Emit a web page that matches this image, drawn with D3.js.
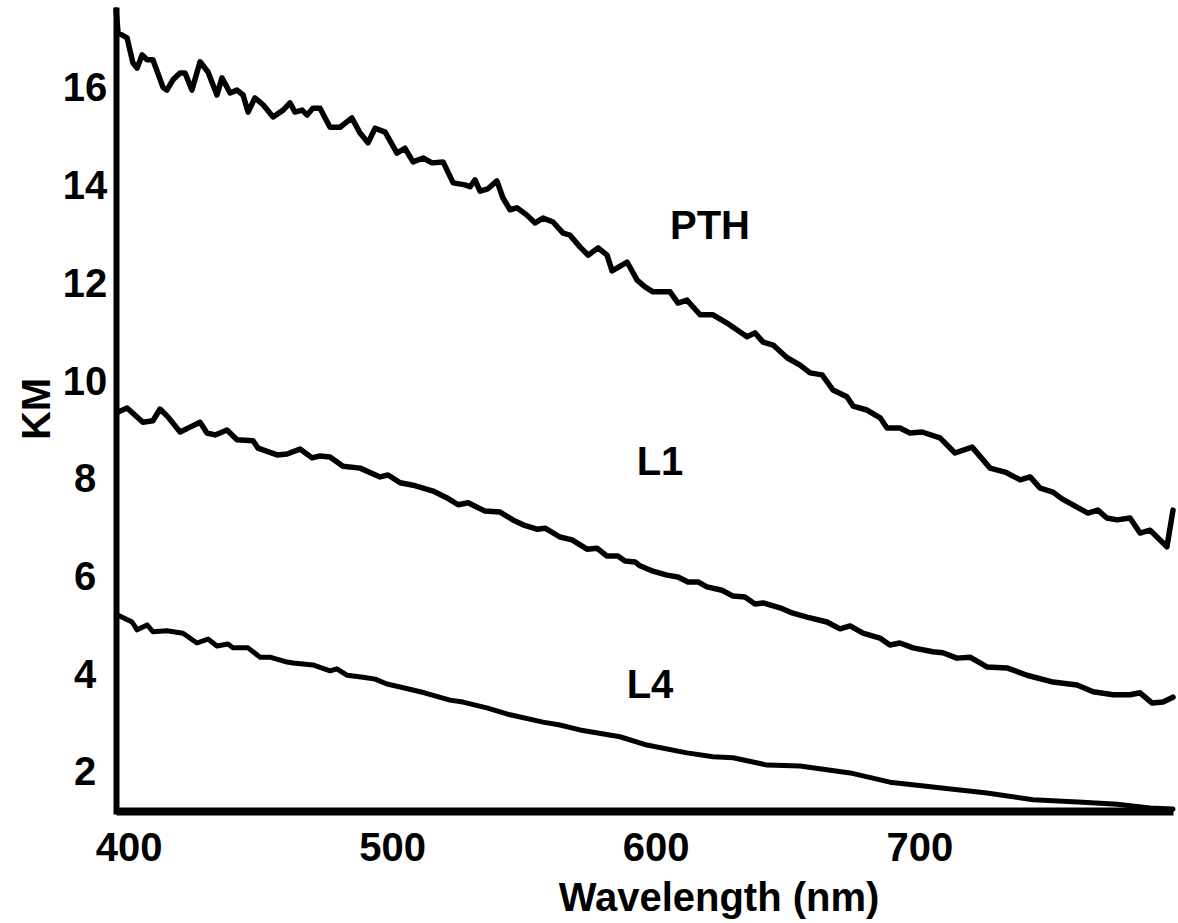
<!DOCTYPE html>
<html>
<head>
<meta charset="utf-8">
<script src="https://cdn.jsdelivr.net/npm/d3@7"></script>
<style>
  body { margin: 0; background: #fff; }
  svg text { font-family: "Liberation Sans", Arial, sans-serif; font-weight: bold; fill: #000; }
</style>
</head>
<body>
<svg id="chart"></svg>
<script>
// DATOS
const xTicks = [400, 500, 600, 700];
const yTicks = [2, 4, 6, 8, 10, 12, 14, 16];
const seriesNames = ["PTH", "L1", "L4"];

const pthNm = [396.0, 396.8, 400.2, 402.4, 404.0, 405.9, 407.8, 410.0, 413.8, 415.3, 417.6, 420.3, 422.2, 424.8,
  427.9, 430.9, 434.3, 436.2, 439.3, 441.9, 444.2, 446.1, 448.7, 451.8, 455.6, 459.4, 462.0, 463.9, 466.6, 468.5,
  470.7, 473.4, 477.2, 481.0, 485.5, 488.6, 491.6, 494.3, 498.1, 502.6, 505.6, 508.7, 512.5, 515.9, 520.1, 523.9,
  528.4, 530.3, 532.2, 534.1, 537.1, 540.5, 542.8, 545.5, 548.1, 551.9, 555.0, 558.0, 561.8, 565.6, 568.2, 572.0,
  575.1, 578.9, 582.3, 584.2, 589.9, 593.7, 596.7, 599.7, 606.2, 609.2, 612.6, 617.6, 622.5, 627.8, 635.4, 638.4,
  641.5, 645.3, 650.6, 655.5, 659.3, 663.9, 668.0, 673.3, 675.6, 680.9, 685.9, 688.5, 693.4, 697.2, 701.8, 708.6,
  714.3, 720.8, 727.6, 733.3, 739.0, 742.8, 746.6, 751.5, 754.9, 760.6, 764.7, 768.5, 771.9, 775.8, 780.7, 784.5,
  788.3, 791.3, 794.7, 797.0];
const pthKm = [17.60, 17.13, 17.03, 16.52, 16.41, 16.68, 16.58, 16.58, 16.02, 15.96, 16.17, 16.31, 16.31, 15.96,
  16.54, 16.33, 15.86, 16.21, 15.90, 15.96, 15.86, 15.51, 15.80, 15.66, 15.41, 15.55, 15.70, 15.51, 15.55, 15.45,
  15.59, 15.59, 15.20, 15.20, 15.39, 15.08, 14.88, 15.18, 15.10, 14.67, 14.77, 14.49, 14.57, 14.47, 14.49, 14.06,
  14.02, 13.98, 14.12, 13.89, 13.94, 14.10, 13.75, 13.51, 13.55, 13.40, 13.24, 13.34, 13.26, 13.03, 12.99, 12.75,
  12.58, 12.73, 12.58, 12.26, 12.44, 12.07, 11.93, 11.83, 11.83, 11.60, 11.66, 11.36, 11.36, 11.19, 10.91, 10.99,
  10.80, 10.74, 10.48, 10.33, 10.17, 10.13, 9.82, 9.68, 9.49, 9.41, 9.25, 9.04, 9.04, 8.94, 8.96, 8.84,
  8.53, 8.65, 8.22, 8.14, 7.98, 8.04, 7.81, 7.73, 7.59, 7.42, 7.30, 7.36, 7.20, 7.16, 7.20, 6.89,
  6.95, 6.79, 6.61, 7.36];

const l1Nm = [396.8, 400.2, 406.2, 410.0, 412.7, 415.7, 420.3, 424.1, 427.9, 430.5, 433.6, 438.1, 441.9, 448.0,
  449.9, 457.1, 460.9, 465.8, 470.4, 473.4, 477.2, 482.1, 488.6, 496.2, 499.2, 503.8, 508.7, 512.5, 516.3, 521.6,
  525.8, 529.6, 536.0, 541.7, 546.6, 550.4, 555.7, 558.8, 564.4, 569.0, 574.7, 578.5, 582.3, 586.4, 589.1, 592.9,
  594.8, 599.7, 605.0, 609.2, 613.0, 616.8, 620.2, 625.9, 630.1, 634.6, 638.4, 641.5, 647.9, 652.8, 658.2, 665.7,
  670.7, 674.5, 679.4, 685.8, 689.6, 693.4, 698.4, 705.9, 709.7, 715.0, 720.0, 726.4, 734.0, 741.6, 751.5, 760.6,
  766.7, 774.3, 780.7, 784.5, 789.1, 793.2, 797.0];
const l1Km = [9.37, 9.45, 9.16, 9.19, 9.43, 9.27, 8.96, 9.06, 9.16, 8.94, 8.90, 9.00, 8.80, 8.78,
  8.63, 8.49, 8.51, 8.61, 8.43, 8.47, 8.45, 8.26, 8.22, 8.04, 8.08, 7.92, 7.87, 7.81, 7.75, 7.61,
  7.47, 7.51, 7.34, 7.32, 7.16, 7.06, 6.97, 6.99, 6.81, 6.75, 6.56, 6.58, 6.42, 6.42, 6.32, 6.30,
  6.22, 6.11, 6.03, 5.99, 5.89, 5.89, 5.79, 5.72, 5.60, 5.58, 5.44, 5.46, 5.36, 5.25, 5.17, 5.07,
  4.93, 4.99, 4.84, 4.74, 4.60, 4.64, 4.54, 4.46, 4.44, 4.33, 4.35, 4.15, 4.13, 3.98, 3.84, 3.78,
  3.64, 3.58, 3.58, 3.62, 3.41, 3.43, 3.53];

const l4Nm = [396.8, 402.1, 404.0, 407.8, 410.0, 415.3, 421.4, 426.7, 430.9, 434.3, 438.5, 440.4, 446.1, 450.6,
  454.4, 460.9, 463.2, 470.7, 477.2, 479.8, 483.6, 489.7, 494.3, 498.8, 503.8, 513.0, 522.7, 527.6, 536.7, 545.5,
  558.0, 564.4, 572.0, 587.2, 597.4, 612.6, 622.5, 630.1, 643.0, 655.5, 674.5, 689.6, 705.9, 726.4, 743.9, 762.8,
  775.8, 788.3, 797.0];
const l4Km = [5.21, 5.07, 4.91, 5.01, 4.87, 4.89, 4.84, 4.64, 4.72, 4.58, 4.62, 4.54, 4.54, 4.35,
  4.35, 4.25, 4.23, 4.19, 4.07, 4.11, 3.98, 3.94, 3.90, 3.80, 3.74, 3.62, 3.47, 3.43, 3.31, 3.17,
  3.02, 2.96, 2.86, 2.72, 2.55, 2.39, 2.31, 2.29, 2.14, 2.12, 1.98, 1.79, 1.69, 1.57, 1.43, 1.38,
  1.34, 1.26, 1.24];

// VARIABLES GLOBALES
const width = 1178;
const height = 923;

const svg = d3.select("#chart")
  .attr("width", width)
  .attr("height", height);

// ESCALAS
const x = d3.scaleLinear().domain([396, 797]).range([116, 1173]);
const y = d3.scaleLinear().domain([1.2, 17.6]).range([811, 10]);

// EJES
const xAxis = svg.append("g")
  .attr("transform", "translate(0,811)")
  .call(d3.axisBottom(x).tickValues(xTicks).tickSize(0).tickSizeOuter(0).tickPadding(22));
xAxis.select(".domain").attr("stroke", "#000").attr("stroke-width", 8);
xAxis.selectAll("text").attr("font-size", 40).attr("dx", 2);

const yAxis = svg.append("g")
  .attr("transform", "translate(116,0)")
  .call(d3.axisLeft(y).tickValues(yTicks).tickSize(0).tickSizeOuter(0));
yAxis.select(".domain").attr("stroke", "#000").attr("stroke-width", 6).attr("stroke-linecap", "square");
yAxis.selectAll("text")
  .attr("font-size", 40)
  .attr("text-anchor", "middle")
  .attr("x", -31);

// TITULOS DE EJES
svg.append("text")
  .attr("x", 719).attr("y", 911)
  .attr("text-anchor", "middle")
  .attr("font-size", 40)
  .text("Wavelength (nm)");

svg.append("text")
  .attr("transform", "translate(50,409) rotate(-90)")
  .attr("text-anchor", "middle")
  .attr("font-size", 40)
  .text("KM");

// CURVAS
const line = d3.line()
  .x(d => x(d[0]))
  .y(d => y(d[1]));

const series = [
  d3.zip(pthNm, pthKm),
  d3.zip(l1Nm, l1Km),
  d3.zip(l4Nm, l4Km)
];

svg.append("g")
  .selectAll("path")
  .data(series)
  .enter()
  .append("path")
  .attr("fill", "none")
  .attr("stroke", "#000")
  .attr("stroke-width", (d, i) => i === 2 ? 5 : 5.5)
  .attr("stroke-linejoin", "round")
  .attr("stroke-linecap", "round")
  .attr("d", line);

// ETIQUETAS DE SERIES
const labelPos = [[710, 239], [660, 475], [650, 698]];
svg.append("g")
  .selectAll("text")
  .data(seriesNames)
  .enter()
  .append("text")
  .attr("x", (d, i) => labelPos[i][0])
  .attr("y", (d, i) => labelPos[i][1])
  .attr("text-anchor", "middle")
  .attr("font-size", 40)
  .text(d => d);
</script>
</body>
</html>
